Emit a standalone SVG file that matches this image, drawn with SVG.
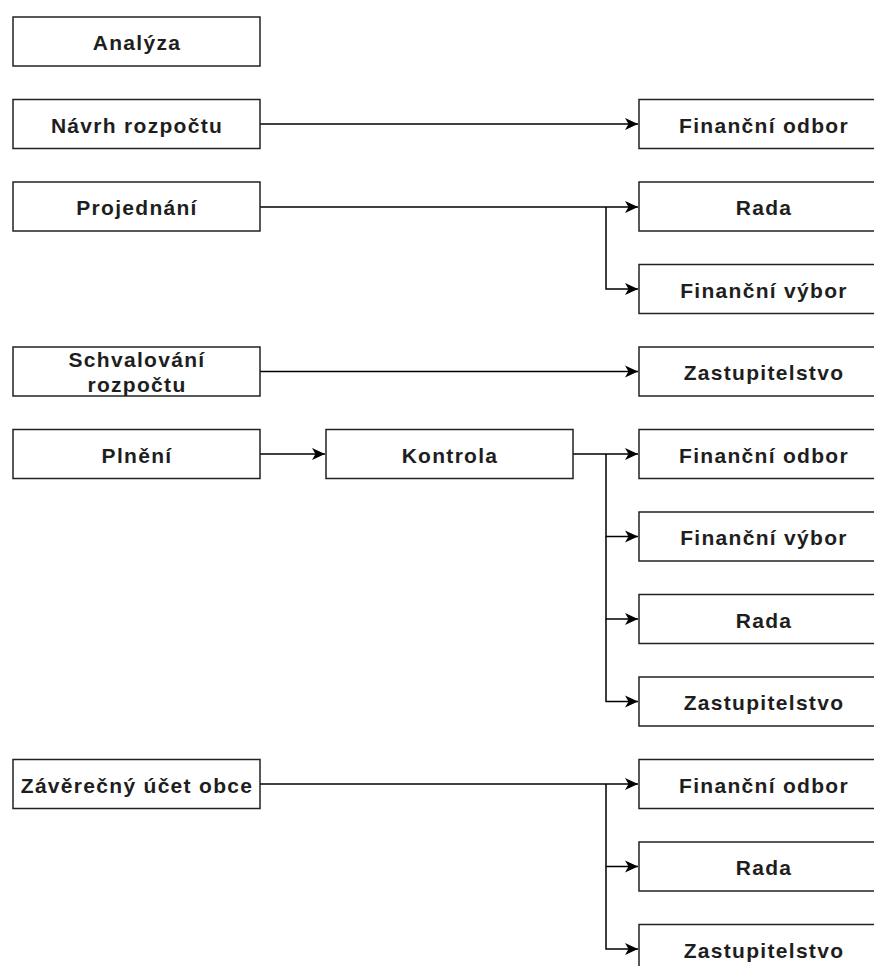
<svg xmlns="http://www.w3.org/2000/svg" width="874" height="966" viewBox="0 0 874 966">
<style>
.box{fill:#fff;stroke:#222;stroke-width:1.5}
.t{font-family:"Liberation Sans",Arial,sans-serif;font-weight:bold;font-size:21px;letter-spacing:1.3px;fill:#1e1e1e;text-anchor:middle}
.c{fill:none;stroke:#000;stroke-width:1.5}
</style>
<defs>
<marker id="arr" markerUnits="userSpaceOnUse" markerWidth="14" markerHeight="14" refX="13" refY="6.5" orient="auto">
<path d="M0,0.5 L13,6.5 L0,12.5 L3.5,6.5 Z" fill="#000"/>
</marker>
</defs>
<rect width="874" height="966" fill="#fff"/>
<g id="connectors">
<path class="c" d="M260,124 H638" marker-end="url(#arr)"/>
<path class="c" d="M260,207 H638" marker-end="url(#arr)"/>
<path class="c" d="M606,207 V289 H638" marker-end="url(#arr)"/>
<path class="c" d="M260,371.5 H638" marker-end="url(#arr)"/>
<path class="c" d="M260,454 H325" marker-end="url(#arr)"/>
<path class="c" d="M573,454 H638" marker-end="url(#arr)"/>
<path class="c" d="M606,454 V536.5 H638" marker-end="url(#arr)"/>
<path class="c" d="M606,536.5 V619 H638" marker-end="url(#arr)"/>
<path class="c" d="M606,619 V701.5 H638" marker-end="url(#arr)"/>
<path class="c" d="M260,784 H638" marker-end="url(#arr)"/>
<path class="c" d="M606,784 V866.5 H638" marker-end="url(#arr)"/>
<path class="c" d="M606,866.5 V949 H638" marker-end="url(#arr)"/>
</g>
<g id="analyza"><rect class="box" x="13" y="17" width="247" height="49"/><text class="t" x="137" y="49.5">Analýza</text></g>
<g id="navrh"><rect class="box" x="13" y="99.5" width="247" height="49"/><text class="t" x="137" y="132.5">Návrh rozpočtu</text></g>
<g id="projednani"><rect class="box" x="13" y="182" width="247" height="49"/><text class="t" x="137" y="215">Projednání</text></g>
<g id="schvalovani"><rect class="box" x="13" y="347" width="247" height="49"/><text class="t" x="137" y="367">Schvalování</text><text class="t" x="137" y="391.5">rozpočtu</text></g>
<g id="plneni"><rect class="box" x="13" y="429.5" width="247" height="49"/><text class="t" x="137" y="462.5">Plnění</text></g>
<g id="kontrola"><rect class="box" x="326" y="429.5" width="247" height="49"/><text class="t" x="450" y="462.5">Kontrola</text></g>
<g id="zaverecny"><rect class="box" x="13" y="759.5" width="247" height="49"/><text class="t" x="137" y="792.5">Závěrečný účet obce</text></g>
<g id="fo1"><rect class="box" x="639" y="99.5" width="247" height="49"/><text class="t" x="764" y="132.5">Finanční odbor</text></g>
<g id="rada1"><rect class="box" x="639" y="182" width="247" height="49"/><text class="t" x="764" y="215">Rada</text></g>
<g id="fv1"><rect class="box" x="639" y="264.5" width="247" height="49"/><text class="t" x="764" y="297.5">Finanční výbor</text></g>
<g id="zast1"><rect class="box" x="639" y="347" width="247" height="49"/><text class="t" x="764" y="380">Zastupitelstvo</text></g>
<g id="fo2"><rect class="box" x="639" y="429.5" width="247" height="49"/><text class="t" x="764" y="462.5">Finanční odbor</text></g>
<g id="fv2"><rect class="box" x="639" y="512" width="247" height="49"/><text class="t" x="764" y="545">Finanční výbor</text></g>
<g id="rada2"><rect class="box" x="639" y="594.5" width="247" height="49"/><text class="t" x="764" y="627.5">Rada</text></g>
<g id="zast2"><rect class="box" x="639" y="677" width="247" height="49"/><text class="t" x="764" y="710">Zastupitelstvo</text></g>
<g id="fo3"><rect class="box" x="639" y="759.5" width="247" height="49"/><text class="t" x="764" y="792.5">Finanční odbor</text></g>
<g id="rada3"><rect class="box" x="639" y="842" width="247" height="49"/><text class="t" x="764" y="875">Rada</text></g>
<g id="zast3"><rect class="box" x="639" y="924.5" width="247" height="49"/><text class="t" x="764" y="957.5">Zastupitelstvo</text></g>
</svg>
